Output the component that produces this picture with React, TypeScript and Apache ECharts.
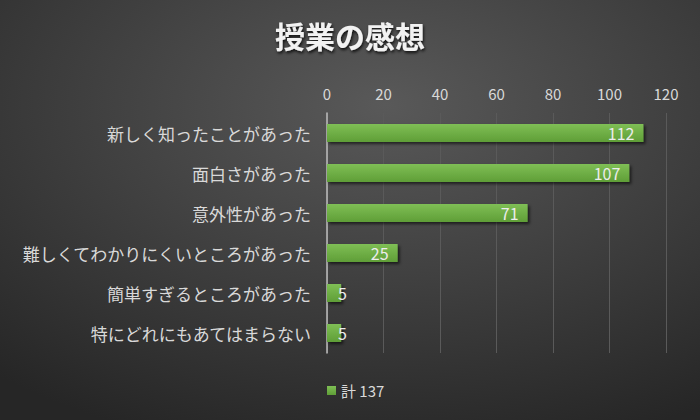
import React, { useEffect, useRef } from 'react';
import * as echarts from 'echarts';

const TITLE = '授業の感想';
const SERIES_NAME = '計 137';
const CATEGORIES = [
  '新しく知ったことがあった',
  '面白さがあった',
  '意外性があった',
  '難しくてわかりにくいところがあった',
  '簡単すぎるところがあった',
  '特にどれにもあてはまらない',
];
const VALUES = [112, 107, 71, 25, 5, 5];
const X_MIN = 0;
const X_MAX = 120;
const X_STEP = 20;

const COLORS = {
  FG: '#d9d9d9',
  TITLE: '#f2f2f2',
  SPLIT: '#5a5a5a',
  AXIS: '#bfbfbf',
  BAR_TOP: '#7fbf55',
  BAR_BOTTOM: '#5f9e37',
};

const FONT = '"Noto Sans CJK JP", "Noto Sans", sans-serif';

const App: React.FC = () => {
  const divEL = useRef<HTMLDivElement>(null);

  useEffect(() => {
    document.body.style.margin = '0';
    const instance = echarts.init(divEL.current as any, null, { renderer: 'svg' });

    const option: echarts.EChartsOption = {
      animation: false,
      backgroundColor: {
        type: 'radial',
        x: 0.55,
        y: 0.25,
        r: 0.85,
        colorStops: [
          { offset: 0, color: '#595959' },
          { offset: 1, color: '#262626' },
        ],
      } as any,
      textStyle: { fontFamily: FONT },
      title: {
        text: TITLE,
        left: 'center',
        top: 15,
        textStyle: {
          color: COLORS.TITLE,
          fontSize: 30,
          fontWeight: 'bold',
          fontFamily: FONT,
          textShadowColor: 'rgba(0,0,0,0.8)',
          textShadowBlur: 3,
          textShadowOffsetX: 1,
          textShadowOffsetY: 2,
        },
      },
      legend: {
        data: [SERIES_NAME],
        left: 322,
        top: 378,
        icon: 'rect',
        itemWidth: 9,
        itemHeight: 9,
        itemGap: 6,
        textStyle: { color: COLORS.FG, fontSize: 15, fontFamily: FONT },
      },
      grid: {
        left: 327,
        right: 34,
        top: 113,
        bottom: 67,
      },
      xAxis: {
        type: 'value',
        position: 'top',
        min: X_MIN,
        max: X_MAX,
        interval: X_STEP,
        axisLine: { show: false },
        axisTick: { show: false },
        axisLabel: { color: COLORS.FG, fontSize: 15, margin: 12, fontFamily: FONT },
        splitLine: { lineStyle: { color: COLORS.SPLIT, width: 1 } },
      },
      yAxis: {
        type: 'category',
        inverse: true,
        data: CATEGORIES,
        axisLine: { show: true, lineStyle: { color: COLORS.AXIS, width: 1.5 } },
        axisTick: { show: false },
        axisLabel: { color: COLORS.FG, fontSize: 17, margin: 16, fontFamily: FONT },
      },
      series: [
        {
          name: SERIES_NAME,
          type: 'bar',
          barWidth: 18,
          data: VALUES.map((v) =>
            v < 10
              ? { value: v, label: { position: 'insideLeft', distance: 11 } }
              : { value: v }
          ) as any,
          itemStyle: {
            color: {
              type: 'linear',
              x: 0,
              y: 0,
              x2: 0,
              y2: 1,
              colorStops: [
                { offset: 0, color: COLORS.BAR_TOP },
                { offset: 1, color: COLORS.BAR_BOTTOM },
              ],
            } as any,
            shadowColor: 'rgba(0,0,0,0.6)',
            shadowBlur: 3,
            shadowOffsetX: 2,
            shadowOffsetY: 2,
          },
          label: {
            show: true,
            position: 'insideRight',
            distance: 9,
            color: '#ececec',
            fontSize: 16,
            fontFamily: FONT,
          },
        },
      ],
    };

    instance.setOption(option);
    return () => {
      instance.dispose();
    };
  }, []);

  return <div ref={divEL} style={{ width: 700, height: 420 }}></div>;
};

export default App;
